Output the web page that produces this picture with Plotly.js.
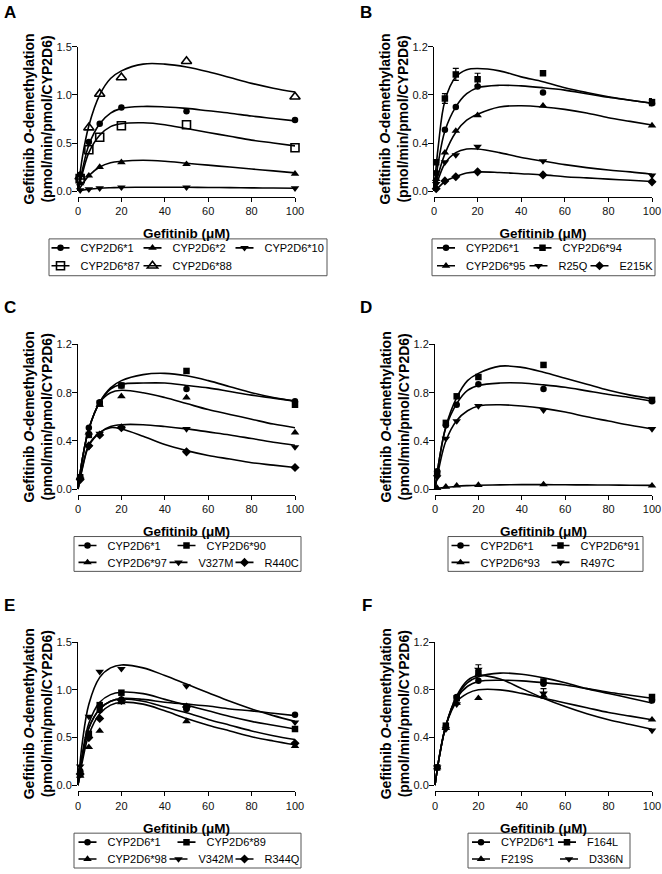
<!DOCTYPE html>
<html><head><meta charset="utf-8">
<script src="https://cdn.plot.ly/plotly-3.0.1.min.js"></script>
<style>html,body{margin:0;padding:0;background:#fff}</style>
</head><body><div id="chart" style="width:662px;height:874px"></div>
<script>
// ---------- DATA ----------
const concentrations = [1, 5, 10, 20, 50, 100];
const fitConcentrations = [0, 2, 5, 10, 15, 20, 30, 40, 50, 60, 70, 80, 90, 100];
const xTicks = [0, 20, 40, 60, 80, 100];
const yTicks15 = [0, 0.5, 1.0, 1.5];
const yTicks12 = [0, 0.4, 0.8, 1.2];

// Panel A
const aLabels = ['CYP2D6*1', 'CYP2D6*2', 'CYP2D6*10', 'CYP2D6*87', 'CYP2D6*88'];
const aPts1  = [0.17, 0.51, 0.70, 0.87, 0.83, 0.74];
const aPts2  = [0.08, 0.16, 0.25, 0.30, 0.28, 0.18];
const aPts10 = [0.01, 0.02, 0.03, 0.04, 0.04, 0.03];
const aPts87 = [0.13, 0.43, 0.56, 0.68, 0.69, 0.45];
const aPts88 = [0.15, 0.66, 1.01, 1.18, 1.35, 0.98];
const aFit1  = [0, 0.22, 0.48, 0.70, 0.81, 0.86, 0.88, 0.875, 0.86, 0.835, 0.81, 0.78, 0.755, 0.73];
const aFit2  = [0, 0.07, 0.16, 0.25, 0.295, 0.31, 0.32, 0.31, 0.29, 0.27, 0.25, 0.23, 0.21, 0.19];
const aFit10 = [0, 0.01, 0.02, 0.03, 0.035, 0.038, 0.04, 0.04, 0.04, 0.038, 0.036, 0.034, 0.032, 0.03];
const aFit87 = [0, 0.18, 0.40, 0.58, 0.67, 0.70, 0.71, 0.69, 0.65, 0.61, 0.57, 0.53, 0.50, 0.47];
const aFit88 = [0, 0.35, 0.68, 1.00, 1.17, 1.25, 1.32, 1.32, 1.29, 1.24, 1.18, 1.12, 1.07, 1.03];

// Panel B
const bLabels = ['CYP2D6*1', 'CYP2D6*94', 'CYP2D6*95', 'R25Q', 'E215K'];
const bPts1     = [0.15, 0.51, 0.70, 0.87, 0.82, 0.73];
const bPts94    = [0.24, 0.77, 0.97, 0.93, 0.98, 0.74];
const bErr94    = [0, 0.04, 0.05, 0.05, 0, 0.03];
const bPts95    = [0.10, 0.32, 0.50, 0.63, 0.71, 0.545];
const bPtsR25Q  = [0.06, 0.24, 0.30, 0.37, 0.25, 0.13];
const bPtsE215K = [0.02, 0.085, 0.12, 0.16, 0.135, 0.077];
const bFit1     = [0, 0.24, 0.50, 0.70, 0.81, 0.86, 0.88, 0.875, 0.86, 0.84, 0.81, 0.78, 0.755, 0.73];
const bFit94    = [0, 0.38, 0.75, 0.95, 1.01, 1.02, 1.00, 0.95, 0.91, 0.86, 0.82, 0.785, 0.755, 0.73];
const bFit95    = [0, 0.14, 0.31, 0.49, 0.59, 0.64, 0.70, 0.71, 0.70, 0.68, 0.65, 0.61, 0.58, 0.55];
const bFitR25Q  = [0, 0.10, 0.23, 0.32, 0.35, 0.35, 0.32, 0.28, 0.25, 0.22, 0.195, 0.175, 0.16, 0.14];
const bFitE215K = [0, 0.03, 0.08, 0.12, 0.15, 0.16, 0.155, 0.145, 0.135, 0.12, 0.11, 0.10, 0.09, 0.08];

// Panel C
const cLabels = ['CYP2D6*1', 'CYP2D6*90', 'CYP2D6*97', 'V327M', 'R440C'];
const cPts1     = [0.10, 0.51, 0.72, 0.86, 0.83, 0.73];
const cPts90    = [0.10, 0.45, 0.71, 0.86, 0.98, 0.70];
const cPts97    = [0.10, 0.47, 0.70, 0.77, 0.76, 0.47];
const cPtsV327M = [0.08, 0.35, 0.46, 0.51, 0.50, 0.35];
const cPtsR440C = [0.08, 0.36, 0.45, 0.51, 0.31, 0.18];
const cFit1     = [0, 0.25, 0.50, 0.72, 0.83, 0.87, 0.88, 0.88, 0.86, 0.84, 0.81, 0.78, 0.755, 0.73];
const cFit90    = [0, 0.25, 0.50, 0.72, 0.84, 0.90, 0.95, 0.96, 0.94, 0.90, 0.85, 0.80, 0.76, 0.73];
const cFit97    = [0, 0.25, 0.50, 0.72, 0.80, 0.82, 0.80, 0.76, 0.71, 0.66, 0.62, 0.58, 0.54, 0.51];
const cFitV327M = [0, 0.17, 0.36, 0.47, 0.52, 0.535, 0.535, 0.52, 0.50, 0.475, 0.45, 0.42, 0.39, 0.365];
const cFitR440C = [0, 0.18, 0.37, 0.47, 0.51, 0.50, 0.44, 0.37, 0.32, 0.28, 0.25, 0.22, 0.20, 0.18];

// Panel D
const dLabels = ['CYP2D6*1', 'CYP2D6*91', 'CYP2D6*93', 'R497C'];
const dPts1     = [0.15, 0.53, 0.70, 0.87, 0.83, 0.73];
const dPts91    = [0.13, 0.55, 0.77, 0.93, 1.03, 0.74];
const dPts93    = [0.01, 0.02, 0.03, 0.035, 0.04, 0.03];
const dPtsR497C = [0.10, 0.42, 0.565, 0.69, 0.655, 0.50];
const dFit1     = [0, 0.25, 0.51, 0.71, 0.82, 0.86, 0.88, 0.88, 0.865, 0.845, 0.815, 0.785, 0.76, 0.73];
const dFit91    = [0, 0.25, 0.52, 0.76, 0.90, 0.96, 1.02, 1.01, 0.97, 0.92, 0.87, 0.82, 0.78, 0.75];
const dFit93    = [0, 0.008, 0.015, 0.025, 0.03, 0.033, 0.036, 0.038, 0.038, 0.037, 0.036, 0.035, 0.033, 0.032];
const dFitR497C = [0, 0.19, 0.40, 0.57, 0.65, 0.69, 0.70, 0.69, 0.67, 0.64, 0.60, 0.565, 0.53, 0.50];

// Panel E
const eLabels = ['CYP2D6*1', 'CYP2D6*89', 'CYP2D6*98', 'V342M', 'R344Q'];
const ePts1     = [0.15, 0.52, 0.79, 0.90, 0.80, 0.74];
const ePts89    = [0.12, 0.54, 0.84, 0.97, 0.82, 0.59];
const ePts98    = [0.10, 0.40, 0.57, 0.87, 0.67, 0.41];
const ePtsV342M = [0.20, 0.72, 1.19, 1.22, 1.04, 0.66];
const ePtsR344Q = [0.12, 0.50, 0.70, 0.89, 0.82, 0.44];
const eFit1     = [0, 0.30, 0.60, 0.80, 0.88, 0.91, 0.90, 0.87, 0.85, 0.83, 0.80, 0.78, 0.755, 0.73];
const eFit89    = [0, 0.33, 0.65, 0.87, 0.95, 0.975, 0.96, 0.90, 0.84, 0.78, 0.72, 0.67, 0.63, 0.59];
const eFit98    = [0, 0.25, 0.53, 0.75, 0.84, 0.87, 0.85, 0.78, 0.70, 0.63, 0.57, 0.51, 0.465, 0.425];
const eFitV342M = [0, 0.45, 0.85, 1.13, 1.23, 1.26, 1.23, 1.15, 1.06, 0.97, 0.88, 0.80, 0.73, 0.67];
const eFitR344Q = [0, 0.30, 0.60, 0.80, 0.88, 0.905, 0.88, 0.82, 0.76, 0.69, 0.63, 0.57, 0.52, 0.48];

// Panel F
const fLabels = ['CYP2D6*1', 'F164L', 'F219S', 'D336N'];
const fPts1     = [0.15, 0.49, 0.74, 0.875, 0.85, 0.71];
const fPtsF164L = [0.15, 0.50, 0.73, 0.94, 0.87, 0.74];
const fPtsF219S = [0.15, 0.48, 0.69, 0.73, 0.75, 0.55];
const fPtsD336N = [0.15, 0.47, 0.68, 0.97, 0.77, 0.46];
const fErrD336N = [0, 0, 0, 0.04, 0.04, 0];
const fFit1     = [0, 0.24, 0.50, 0.73, 0.83, 0.87, 0.88, 0.875, 0.86, 0.84, 0.81, 0.78, 0.755, 0.73];
const fFitF164L = [0, 0.24, 0.50, 0.74, 0.86, 0.91, 0.94, 0.93, 0.90, 0.86, 0.81, 0.77, 0.73, 0.69];
const fFitF219S = [0, 0.24, 0.50, 0.70, 0.77, 0.80, 0.80, 0.77, 0.73, 0.69, 0.65, 0.61, 0.58, 0.55];
const fFitD336N = [0, 0.24, 0.50, 0.75, 0.88, 0.92, 0.89, 0.81, 0.73, 0.66, 0.60, 0.55, 0.51, 0.47];

// ---------- LAYOUT / STYLE ----------
const W = 662, H = 874;
const FONT = '"Liberation Sans", Arial, Helvetica, sans-serif';
const FILLED = {circle: ['circle', 6.5], square: ['square', 6.5], up: ['triangle-up', 7.5], down: ['triangle-down', 7.5], diamond: ['diamond', 7]};

const panels = [
  {letter: 'A', lx: 2, ly: 1, labels: aLabels, pts: [aPts1, aPts2, aPts10, aPts87, aPts88], fits: [aFit1, aFit2, aFit10, aFit87, aFit88],
   errs: [null, null, null, null, null], sym: ['circle', 'up', 'down', 'square-open', 'up-open'],
   yRange: [0, 1.5], yTicks: yTicks15, x0: 78, x1: 295, y0: 192, yTop: 47,
   box: [49, 240, 327, 277], items: [[60.5, 249], [152.5, 249], [244.5, 249], [60.5, 267], [152.5, 267]]},
  {letter: 'B', lx: 358, ly: 1, labels: bLabels, pts: [bPts1, bPts94, bPts95, bPtsR25Q, bPtsE215K], fits: [bFit1, bFit94, bFit95, bFitR25Q, bFitE215K],
   errs: [null, bErr94, null, null, null], sym: ['circle', 'square', 'up', 'down', 'diamond'],
   yRange: [0, 1.2], yTicks: yTicks12, x0: 434, x1: 652, y0: 192, yTop: 47,
   box: [432, 240, 655, 277], items: [[446, 249], [542.5, 249], [446, 267], [538.5, 267], [599.5, 267]]},
  {letter: 'C', lx: 2, ly: 297, labels: cLabels, pts: [cPts1, cPts90, cPts97, cPtsV327M, cPtsR440C], fits: [cFit1, cFit90, cFit97, cFitV327M, cFitR440C],
   errs: [null, null, null, null, null], sym: ['circle', 'square', 'up', 'down', 'diamond'],
   yRange: [0, 1.2], yTicks: yTicks12, x0: 78, x1: 295, y0: 491.5, yTop: 346,
   box: [74, 539, 301, 574], items: [[87.5, 548], [186.5, 548], [87.5, 565], [178.5, 565], [244.5, 565]]},
  {letter: 'D', lx: 358, ly: 297, labels: dLabels, pts: [dPts1, dPts91, dPts93, dPtsR497C], fits: [dFit1, dFit91, dFit93, dFitR497C],
   errs: [null, null, null, null], sym: ['circle', 'square', 'up', 'down'],
   yRange: [0, 1.2], yTicks: yTicks12, x0: 435, x1: 652, y0: 491.5, yTop: 346,
   box: [448, 539, 643, 574], items: [[460.5, 548], [560.5, 548], [460.5, 565], [560.5, 565]]},
  {letter: 'E', lx: 2, ly: 597, labels: eLabels, pts: [ePts1, ePts89, ePts98, ePtsV342M, ePtsR344Q], fits: [eFit1, eFit89, eFit98, eFitV342M, eFitR344Q],
   errs: [null, null, null, null, null], sym: ['circle', 'square', 'up', 'down', 'diamond'],
   yRange: [0, 1.5], yTicks: yTicks15, x0: 78, x1: 295, y0: 789, yTop: 645,
   box: [74, 837, 301, 872], items: [[87.5, 846], [186.5, 846], [87.5, 863], [178.5, 863], [244.5, 863]]},
  {letter: 'F', lx: 360, ly: 597, labels: fLabels, pts: [fPts1, fPtsF164L, fPtsF219S, fPtsD336N], fits: [fFit1, fFitF164L, fFitF219S, fFitD336N],
   errs: [null, null, null, fErrD336N], sym: ['circle', 'square', 'up', 'down'],
   yRange: [0, 1.2], yTicks: yTicks12, x0: 435, x1: 652, y0: 789, yTop: 645,
   box: [468, 837, 630, 872], items: [[481, 846], [567, 846], [481, 863], [569, 863]]}
];

function markerFor(key) {
  if (key === 'square-open') return {symbol: 'square-open', size: 8, color: '#000', line: {color: '#000', width: 1.6}};
  if (key === 'up-open') return {symbol: 'triangle-up-open', size: 9, color: '#000', line: {color: '#000', width: 1.6}};
  const f = FILLED[key];
  return {symbol: f[0], size: f[1], color: '#000', line: {color: '#000', width: 0}};
}

const traces = [];
const layout = {
  width: W, height: H, margin: {l: 0, r: 0, t: 0, b: 0},
  paper_bgcolor: '#fff', plot_bgcolor: 'rgba(0,0,0,0)',
  font: {family: FONT, color: '#000'},
  showlegend: true, shapes: [], annotations: []
};

let legendCount = 0;
panels.forEach((p, i) => {
  const k = i + 1;
  const xa = k === 1 ? 'x' : 'x' + k;
  const ya = k === 1 ? 'y' : 'y' + k;
  layout[k === 1 ? 'xaxis' : 'xaxis' + k] = {
    domain: [p.x0 / W, p.x1 / W], anchor: 'free', position: 1 - (p.y0 + 6) / H,
    range: [0, 100], tickvals: xTicks, showline: true, linecolor: '#000', linewidth: 1,
    ticks: 'outside', ticklen: 4, tickwidth: 1, tickcolor: '#000', showgrid: false, zeroline: false,
    tickfont: {family: FONT, size: 11, color: '#111'}, fixedrange: true,
    title: {text: 'Gefitinib (μM)', font: {family: FONT, size: 13.5, weight: 'bold', color: '#000'}, standoff: 12}
  };
  layout[k === 1 ? 'yaxis' : 'yaxis' + k] = {
    domain: [1 - p.y0 / H, 1 - p.yTop / H], anchor: xa,
    range: p.yRange, tickvals: p.yTicks, tickformat: '.1f', showline: true, linecolor: '#000', linewidth: 1,
    ticks: 'outside', ticklen: 5, tickwidth: 1, tickcolor: '#000', showgrid: false, zeroline: false,
    ticklabelstandoff: -2,
    tickfont: {family: FONT, size: 11, color: '#111'}, fixedrange: true,
    title: {text: 'Gefitinib <i>O</i>-demethylation<br>(pmol/min/pmol/CYP2D6)', font: {family: FONT, size: 14, weight: 'bold', color: '#000'}, standoff: 0}
  };
  layout.annotations.push({text: '<b>' + p.letter + '</b>', xref: 'paper', yref: 'paper', x: p.lx / W, y: 1 - p.ly / H,
    xanchor: 'left', yanchor: 'top', showarrow: false, font: {family: FONT, size: 17, color: '#000'}});
  layout.shapes.push({type: 'rect', xref: 'paper', yref: 'paper', x0: p.box[0] / W, x1: p.box[2] / W, y0: 1 - p.box[1] / H, y1: 1 - p.box[3] / H,
    line: {color: '#555', width: 1}, fillcolor: 'rgba(0,0,0,0)'});

  p.labels.forEach((name, j) => {
    const mk = markerFor(p.sym[j]);
    traces.push({x: fitConcentrations, y: p.fits[j], mode: 'lines', xaxis: xa, yaxis: ya, showlegend: false, hoverinfo: 'skip',
      line: {color: '#000', width: 1.6, shape: 'spline', smoothing: 1}});
    const pt = {x: concentrations, y: p.pts[j], mode: 'markers', xaxis: xa, yaxis: ya, showlegend: false, name: name,
      marker: mk, cliponaxis: false};
    if (p.errs[j]) pt.error_y = {type: 'data', array: p.errs[j], visible: true, color: '#000', thickness: 1.2, width: 3};
    traces.push(pt);
    legendCount++;
    const lid = legendCount === 1 ? 'legend' : 'legend' + legendCount;
    const it = p.items[j];
    layout[lid] = {x: (it[0] - 20) / W, y: 1 - it[1] / H, xanchor: 'left', yanchor: 'middle',
      bgcolor: 'rgba(0,0,0,0)', borderwidth: 0, itemwidth: 30,
      font: {family: FONT, size: 11, color: '#000'}, itemclick: false, itemdoubleclick: false};
    traces.push({x: [null], y: [null], mode: 'lines+markers', name: name, xaxis: xa, yaxis: ya, legend: lid,
      line: {color: '#000', width: 1.6, dash: '0px,6px,18px,40px'}, marker: mk, hoverinfo: 'skip'});
  });
});

Plotly.newPlot('chart', traces, layout, {displayModeBar: false, staticPlot: true});
</script>
</body></html>
